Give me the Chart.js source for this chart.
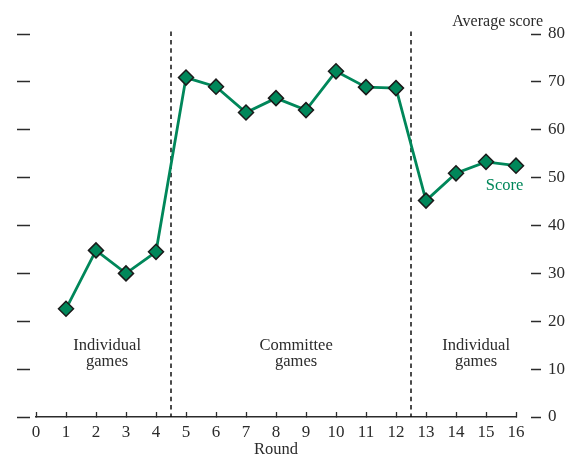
<!DOCTYPE html>
<html lang="en">
    <head>
        <meta charset="UTF-8">
        <title>Average score by round</title>
        <script src="https://cdn.jsdelivr.net/npm/chart.js@4.4.0/dist/chart.umd.min.js"></script>
        <style>
            html, body { margin: 0; padding: 0; background: #fff; }
            #wrap { width: 569px; height: 455px; }
        </style>
    </head>
    <body>
        <div id="wrap"><canvas id="chart"></canvas></div>

    <script>
        // values
        const rounds = [1, 2, 3, 4, 5, 6, 7, 8, 9, 10, 11, 12, 13, 14, 15, 16];
        const scores = [22.6, 34.8, 30.0, 34.5, 70.9, 69.0, 63.6, 66.6, 64.1, 72.2, 68.9, 68.7, 45.2, 50.9, 53.3, 52.5];
        const phaseBreaks = [4.5, 12.5];
        const phaseNames = [['Individual', 'games'], ['Committee', 'games'], ['Individual', 'games']];
        const seriesName = 'Score';
        const yTitle = 'Average score';
        const xTitle = 'Round';

        const green = '#00875a';
        const ink = '#2b2b2b';
        const serif = '"Liberation Serif", "Times New Roman", serif';

        const points = rounds.map((r, i) => ({ x: r, y: scores[i] }));

        const breakSets = phaseBreaks.map(b => ({
            data: [{ x: b, y: 80.5 }, { x: b, y: 0 }],
            borderColor: '#111',
            borderWidth: 1.5,
            borderDash: [4.5, 3.8],
            pointRadius: 0,
            clip: false,
            order: 2
        }));

        // text placed on the plot: phase names, series name, y title
        const textPlugin = {
            id: 'texts',
            afterDatasetsDraw(chart) {
                const { ctx, scales } = chart;
                const x = scales.x, y = scales.y;
                ctx.save();
                ctx.font = '16.5px ' + serif;
                ctx.textAlign = 'center';
                ctx.textBaseline = 'middle';
                ctx.fillStyle = ink;
                const centres = [2.37, 8.67, 14.67];
                phaseNames.forEach((lines, i) => {
                    const px = x.getPixelForValue(centres[i]);
                    const py = y.getPixelForValue(15);
                    lines.forEach((t, k) => ctx.fillText(t, px, py + k * 16));
                });
                ctx.fillStyle = green;
                ctx.fillText(seriesName, x.getPixelForValue(15.62), y.getPixelForValue(48.4));
                ctx.fillStyle = ink;
                ctx.textAlign = 'right';
                ctx.font = '16px ' + serif;
                ctx.fillText(yTitle, 543, 22);
                ctx.restore();
            }
        };

        new Chart(document.getElementById('chart'), {
            type: 'line',
            data: {
                datasets: [{
                    label: seriesName,
                    data: points,
                    borderColor: green,
                    borderWidth: 2.8,
                    backgroundColor: green,
                    pointStyle: 'rectRot',
                    pointRadius: 7.5,
                    pointHoverRadius: 7.5,
                    pointBackgroundColor: green,
                    pointBorderColor: '#1a1a1a',
                    pointBorderWidth: 1.5,
                    tension: 0,
                    clip: false,
                    order: 1
                }, ...breakSets]
            },
            options: {
                responsive: true,
                maintainAspectRatio: false,
                animation: false,
                layout: { padding: { top: 34, left: 0, right: 0, bottom: 0 } },
                plugins: {
                    legend: { display: false },
                    tooltip: { enabled: false }
                },
                scales: {
                    x: {
                        type: 'linear',
                        min: 0,
                        max: 16,
                        ticks: {
                            stepSize: 1,
                            color: ink,
                            padding: 10,
                            font: { family: serif, size: 17 }
                        },
                        grid: {
                            drawOnChartArea: false,
                            tickLength: -5,
                            tickColor: ink,
                            tickWidth: 1.3
                        },
                        border: { display: true, color: ink, width: 1.5 },
                        title: {
                            display: true,
                            text: xTitle,
                            color: ink,
                            font: { family: serif, size: 16.5, lineHeight: 1 },
                            padding: { top: 0, bottom: -3 }
                        },
                        afterFit(s) { s.height = 38; }
                    },
                    y: {
                        position: 'left',
                        min: 0,
                        max: 80,
                        ticks: { stepSize: 10, callback: () => '', padding: 0 },
                        grid: {
                            drawOnChartArea: false,
                            tickLength: 19,
                            tickColor: ink,
                            tickWidth: 1.5,
                            tickBorderDash: [13, 100]
                        },
                        border: { display: false },
                        afterFit(s) { s.width = 36; }
                    },
                    y2: {
                        position: 'right',
                        min: 0,
                        max: 80,
                        ticks: {
                            stepSize: 10,
                            color: ink,
                            padding: 7,
                            font: { family: serif, size: 17 }
                        },
                        grid: {
                            drawOnChartArea: false,
                            tickLength: 25,
                            tickColor: ink,
                            tickWidth: 1.5,
                            tickBorderDash: [10, 15],
                            tickBorderDashOffset: 10
                        },
                        border: { display: false },
                        afterFit(s) { s.width = 53; }
                    }
                }
            },
            plugins: [textPlugin]
        });
    </script>
    </body>
</html>
